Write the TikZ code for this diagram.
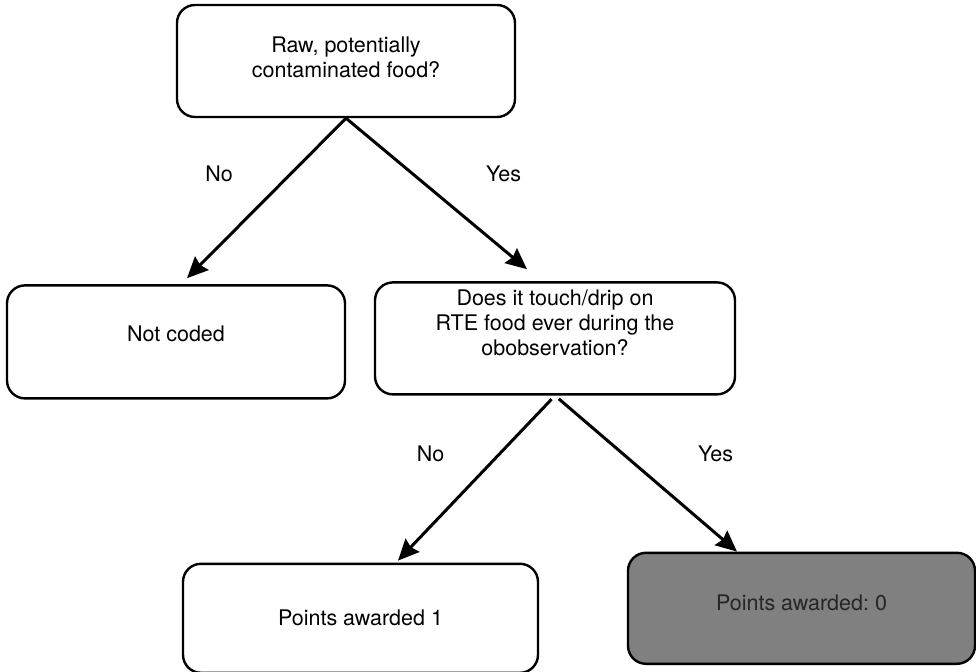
\documentclass[tikz,border=0pt]{standalone}
\usepackage{fontspec}
\setmainfont{TeX Gyre Heros}
\frenchspacing
\usetikzlibrary{positioning,arrows.meta}
\tikzset{
question/.style={
  rectangle, rounded corners=9pt, draw=black, line width=1.2pt,
  align=center, fill=white, text=black,
  font=\fontsize{10.75pt}{12.5pt}\selectfont
  },
scored/.style={
  question, fill=black!50!white, text=black!85
  },
flow/.style={
  ->, line width=1.5pt, draw=black
  },
answer/.style={
  inner sep=0pt, text=black,
  font=\fontsize{10.75pt}{12.5pt}\selectfont
  }
}

\begin{document}
\begin{tikzpicture}[>={Stealth[length=10.5pt,width=9.5pt,inset=1.2pt]}]
\useasboundingbox (0,0) rectangle (488pt,335.5pt);

% first question

\node[question, minimum width=169pt, minimum height=56pt, text depth=4pt]
at (173pt,305pt) (Q1)
{Raw, potentially\\contaminated food?};

% second level

\node[question, minimum width=169pt, minimum height=56.5pt, text depth=8pt,
  below=83pt of Q1, xshift=-85pt](N1){Not coded};

\node[question, minimum width=180pt, minimum height=56pt, text depth=16pt,
  below=81.5pt of Q1, xshift=104.5pt](Q2)
{Does it touch/drip on\\RTE food ever during the\\obobservation?};

% points

\node[question, minimum width=177.5pt, minimum height=54.5pt,
  below=83.5pt of Q2, xshift=-97.25pt](P1){Points awarded 1};

\node[scored, minimum width=173.5pt, minimum height=55.5pt, text depth=5.5pt,
  below=78pt of Q2, xshift=123.25pt](P0){Points awarded: 0};

% arrows

\draw[flow] (Q1.south) -- ([xshift=5.5pt,yshift=3pt]N1.north)
  node[answer, pos=0.35, left=28pt](A1){No};
\draw[flow] (Q1.south) -- ([xshift=-14pt,yshift=6pt]Q2.north)
  node[answer, pos=0.371, right=35.7pt](A2){Yes};
\draw[flow, shorten <=2.5pt] (Q2.south) -- ([xshift=18.75pt,yshift=1pt]P1.north)
  node[answer, pos=0.3515, left=27pt](A3){No};
\draw[flow, shorten <=2.5pt] (Q2.south) -- ([xshift=-32.25pt]P0.north)
  node[answer, pos=0.372, right=36.9pt](A4){Yes};

\end{tikzpicture}
\end{document}
